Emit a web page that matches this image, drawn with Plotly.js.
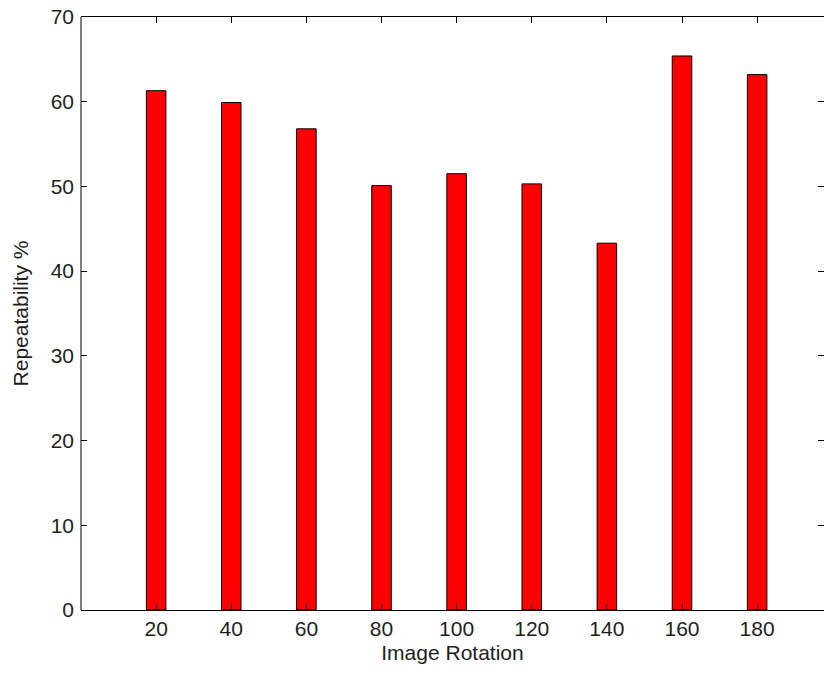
<!DOCTYPE html>
<html>
<head>
<meta charset="utf-8">
<script src="https://cdn.plot.ly/plotly-3.0.1.min.js"></script>
<style>
html,body{margin:0;padding:0;background:#fff;overflow:hidden;}
#chart{width:824px;height:675px;}
</style>
</head>
<body>
<div id="chart"></div>
<script>
const rotations = [20, 40, 60, 80, 100, 120, 140, 160, 180];
const repeatability = [61.3, 59.9, 56.8, 50.1, 51.5, 50.3, 43.3, 65.4, 63.2];
const yTicks = [0, 10, 20, 30, 40, 50, 60, 70];

const fontFam = '"Liberation Sans", Arial, sans-serif';
const txt = '#1e1e1e';

const trace = {
  type: 'bar',
  x: rotations,
  y: repeatability,
  width: 5.2,
  marker: {color: '#ff0000', line: {color: '#000000', width: 1}},
  hoverinfo: 'x+y'
};

const layout = {
  width: 824,
  height: 675,
  margin: {l: 81, r: 0, t: 17, b: 65},
  paper_bgcolor: '#ffffff',
  plot_bgcolor: '#ffffff',
  showlegend: false,
  font: {family: fontFam, size: 21, color: txt},
  xaxis: {
    range: [0, 197.8],
    tickvals: rotations,
    ticktext: rotations.map(String),
    ticks: 'inside',
    ticklen: 6,
    tickcolor: '#000',
    showline: true,
    linecolor: '#000',
    linewidth: 1,
    mirror: 'ticks',
    showgrid: false,
    zeroline: false,
    tickfont: {family: fontFam, size: 21, color: txt},
    title: {text: 'Image Rotation', font: {family: fontFam, size: 21, color: txt}, standoff: 6},
    automargin: false,
    fixedrange: true
  },
  yaxis: {
    range: [0, 70],
    tickvals: yTicks,
    ticks: 'inside',
    ticklen: 6,
    tickcolor: '#000',
    showline: false,
    mirror: 'ticks',
    showgrid: false,
    zeroline: false,
    ticklabelstandoff: 6,
    tickfont: {family: fontFam, size: 21, color: txt},
    title: {text: 'Repeatability %', font: {family: fontFam, size: 21, color: txt}, standoff: 16},
    automargin: false,
    fixedrange: true
  },
  shapes: [
    {type: 'line', xref: 'paper', yref: 'paper', x0: 0, x1: 0, y0: 0, y1: 1,
     line: {color: '#000', width: 1}}
  ]
};

Plotly.newPlot('chart', [trace], layout, {displayModeBar: false, staticPlot: true});
</script>
</body>
</html>
